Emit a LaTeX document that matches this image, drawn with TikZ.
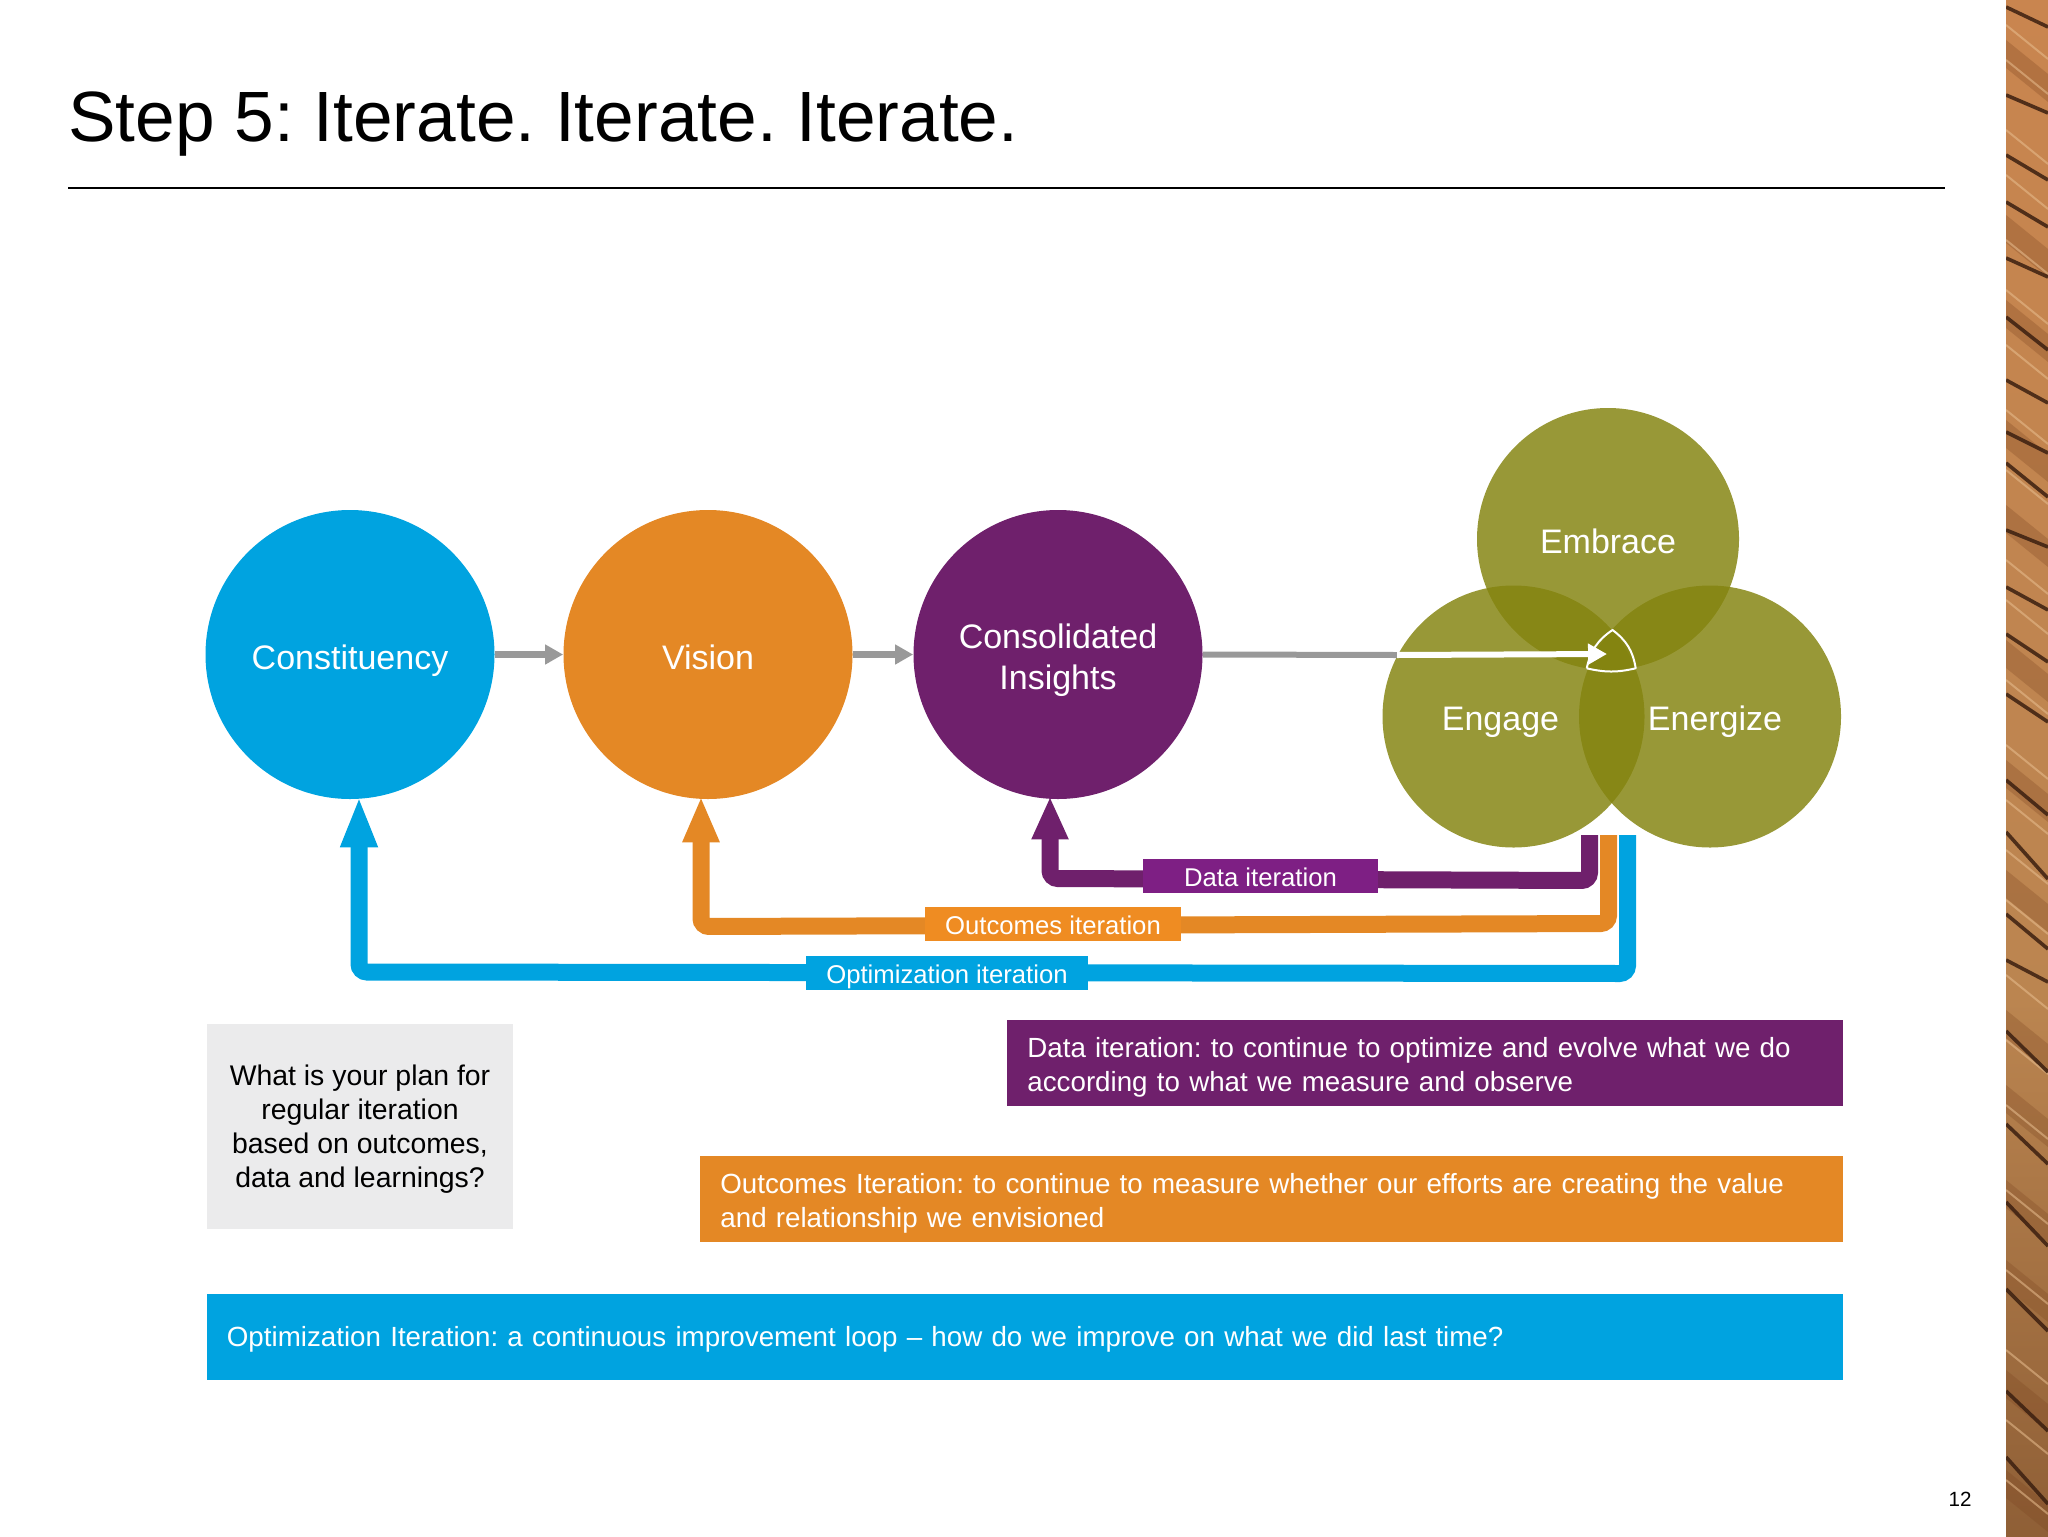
\documentclass[tikz,border=0pt]{standalone}
\usepackage{fontspec}
\setmainfont{Liberation Sans}
\usetikzlibrary{arrows.meta}

\definecolor{skyblue}{HTML}{00A3E0}
\definecolor{amber}{HTML}{E48825}
\definecolor{plum}{HTML}{6F206C}
\definecolor{olive2}{HTML}{84840F}
\definecolor{skylabel}{HTML}{00A3E0}
\definecolor{amberlabel}{HTML}{EF8C22}
\definecolor{plumlabel}{HTML}{7E1F84}
\definecolor{greyline}{HTML}{999999}
\definecolor{greybox}{HTML}{EBEBEC}
\definecolor{woodtop}{HTML}{C9854F}
\definecolor{woodmid}{HTML}{BB8550}
\definecolor{woodlow}{HTML}{8F5F36}
\definecolor{woodcrack}{HTML}{3B1F10}
\definecolor{woodpale}{HTML}{E8BE90}
\definecolor{wooddark}{HTML}{7A4420}

\tikzset{
    stagecircle/.style={circle,inner sep=0pt,minimum size=144.5pt},
    venncircle/.style={circle,inner sep=0pt,minimum size=131pt,fill=olive2,fill opacity=0.835},
    venntext/.style={text=white,font=\fontsize{17}{20.5}\selectfont},
    flowline/.style={line width=3.5pt,greyline},
    iterline/.style={line width=8.5pt,rounded corners=4pt},
    iterlabel/.style={inner sep=0pt,minimum height=17pt,text height=10.5pt,text depth=0pt,text=white,
        font=\fontsize{12.85}{16}\selectfont},
    notebar/.style={anchor=west,inner xsep=10pt,inner ysep=0pt,text=white,align=left,
        font=\fontsize{13.87}{17}\selectfont}
}

\begin{document}
\frenchspacing
\begin{tikzpicture}[x=0.5pt,y=-0.5pt]
    \useasboundingbox (0,0) rectangle (2048,1536);

    % wood strip
    \begin{scope}
        \clip (2006,0) rectangle (2048,1536);
        \fill[top color=woodtop,bottom color=woodmid] (2006,0) rectangle (2048,1000);
        \fill[top color=woodmid,bottom color=woodlow] (2006,1000) rectangle (2048,1536);
        \foreach \y in {40,215,300,420,505,640,760,870,1010,1085,1180,1260,1370,1470}
            \fill[wooddark,opacity=0.28] (2006,\y) -- (2048,\y+34) -- (2048,\y+62) -- (2006,\y+28) -- cycle;
        \foreach \y in {25,60,130,175,240,290,345,410,470,560,600,680,745,800,850,900,975,1040,1105,1190,1270,1350,1420,1480}
            \draw[woodpale,line width=1pt,opacity=0.55] (2006,\y) -- (2048,\y+34);
        \foreach \ya/\yb in {7/27,95/113,155/180,202/227,258/277,317/350,380/403,432/453,463/497,
                530/547,587/610,634/662,694/722,780/815,832/879,914/949,960/982,
                1031/1072,1124/1164,1202/1246,1289/1331,1391/1431,1457/1504}
            \draw[woodcrack,line width=1.8pt,opacity=0.85] (2006,\ya) -- (2048,\yb);
    \end{scope}

    % title
    \node[anchor=base west,inner sep=0pt,font=\fontsize{35.6}{40}\selectfont] (title) at (68,141) {Step 5: Iterate. Iterate. Iterate.};
    \coordinate (ruleL) at (68,187.5);
    \coordinate (ruleR) at (1945,187.5);
    \draw[line width=1pt] (ruleL) -- (ruleR);

    % stages
    \node[stagecircle,fill=skyblue] (Constituency) at (350,654.5) {};
    \node[stagecircle,fill=amber] (Vision) at (708,654.5) {};
    \node[stagecircle,fill=plum] (Insights) at (1058,654.5) {};
    \node[venntext,anchor=base] (ConstituencyText) at (350,669) {Constituency};
    \node[venntext,anchor=base] (VisionText) at (708,669) {Vision};
    \node[venntext,align=center] (InsightsText) at (1058,660.5) {Consolidated\\Insights};

    % overlapping circles
    \node[venncircle] (Embrace) at (1608,539) {};
    \node[venncircle] (Engage) at (1513.5,716.5) {};
    \node[venncircle] (Energize) at (1710,716.5) {};
    \node[venntext] (EmbraceText) at (1608,541) {Embrace};
    \node[venntext] (EngageText) at (1500.5,722) {Engage};
    \node[venntext] (EnergizeText) at (1715,722) {Energize};

    % flow arrows
    \draw[flowline,-{Triangle[length=9pt,width=9.5pt]}] (Constituency) -- (Vision);
    \draw[flowline,-{Triangle[length=9pt,width=9.5pt]}] (Vision) -- (Insights);
    \coordinate (greyEnd) at (1397,655);
    \coordinate (coreTip) at (1607,654);
    \coordinate (coreL) at (1586.7,668.3);
    \coordinate (coreT) at (1612.5,630);
    \coordinate (coreR) at (1635.7,668.3);
    \draw[line width=3pt,greyline] (Insights.east) -- (greyEnd);
    \draw[white,line width=1pt,line join=round] (coreL) to[bend left=22] (coreT) to[bend left=22] (coreR) to[bend left=13] (coreL);
    \draw[white,line width=3pt,-{Triangle[length=9.5pt,width=10pt]}] (greyEnd) -- (coreTip);

    % iteration loops
    \coordinate (dataStart) at (1589.5,835);
    \coordinate (dataR) at (1589.5,880.5);
    \coordinate (dataL) at (1050,878.5);
    \draw[iterline,plum,-{Triangle[length=21.5pt,width=17pt]}] (dataStart) -- (dataR) -- (dataL) -- ([xshift=-4pt,yshift=1.5pt]Insights.south);

    \coordinate (outStart) at (1608.5,835);
    \coordinate (outR) at (1608.5,923.5);
    \coordinate (outL) at (701,926.5);
    \draw[iterline,amber,-{Triangle[length=23pt,width=17pt]}] (outStart) -- (outR) -- (outL) -- ([xshift=-3.5pt,yshift=1.5pt]Vision.south);

    \coordinate (optStart) at (1627.5,835);
    \coordinate (optR) at (1627.5,973.5);
    \coordinate (optL) at (359,972);
    \draw[iterline,skyblue,-{Triangle[length=25.5pt,width=17pt]}] (optStart) -- (optR) -- (optL) -- ([xshift=4.5pt,yshift=1.5pt]Constituency.south);

    \node[iterlabel,fill=plumlabel,minimum width=117.5pt] (dataLabel) at (1260.5,876) {Data iteration};
    \node[iterlabel,fill=amberlabel,minimum width=128pt] (outLabel) at (1053,924) {Outcomes iteration};
    \node[iterlabel,fill=skylabel,minimum width=141pt] (optLabel) at (947,973) {Optimization iteration};

    % notes
    \node[fill=greybox,inner sep=0pt,minimum width=153pt,minimum height=102.5pt,align=center,text depth=-3pt,
        font=\fontsize{14.2}{17}\selectfont] (question) at (360,1126.5)
        {What is your plan for\\regular iteration\\based on outcomes,\\data and learnings?};
    \node[notebar,fill=plum,minimum height=43pt,text width=398pt,text depth=15.5pt] (dataNote) at (1007,1063)
        {Data iteration: to continue to optimize and evolve what we do\\according to what we measure and observe};
    \node[notebar,fill=amber,minimum height=43pt,text width=551.5pt,text depth=15.5pt] (outNote) at (700,1199)
        {Outcomes Iteration: to continue to measure whether our efforts are creating the value\\and relationship we envisioned};
    \node[notebar,fill=skyblue,minimum height=43pt,text width=798.25pt,text depth=-3pt] (optNote) at (206.5,1336.5)
        {Optimization Iteration: a continuous improvement loop -- how do we improve on what we did last time?};

    % page number
    \node[anchor=base east,inner sep=0pt,font=\fontsize{10.3}{12}\selectfont] (pageNo) at (1972,1506) {12};
\end{tikzpicture}
\end{document}
